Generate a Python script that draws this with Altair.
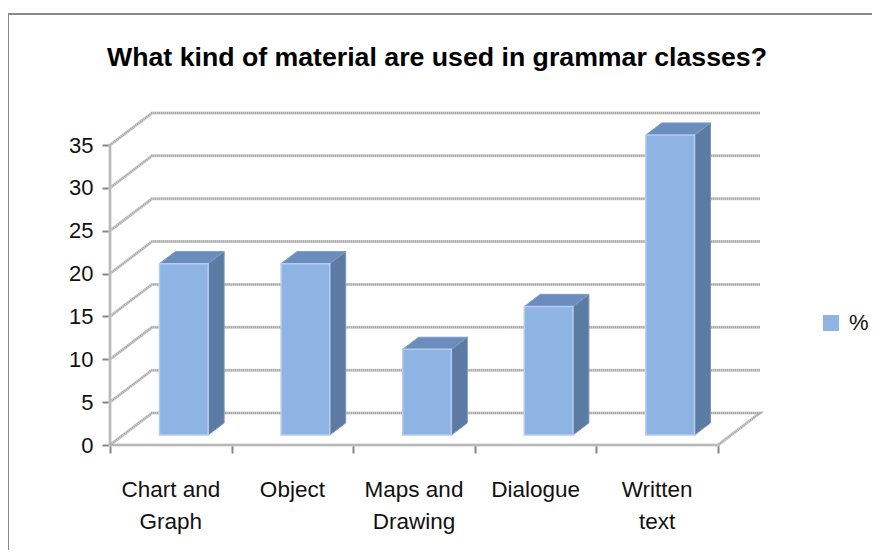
import altair as alt
import pandas as pd

categories = ["Chart and\nGraph", "Object", "Maps and\nDrawing", "Dialogue", "Written\ntext"]
values = [20, 20, 10, 15, 35]
y_ticks = [0, 5, 10, 15, 20, 25, 30, 35]
x_ticks = [0, 1, 2, 3, 4, 5]
series = "%"

FONT = "Liberation Sans"
DX, DY = 42 / 121.5, 32 / 8.571      # depth of the floor in axis units
XMAX, YMAX = 5 + DX, 35 + DY
F0, F1 = 0.31, 0.69                  # bar front / back plane along the depth
BW = 0.4

xs = alt.Scale(domain=[0, XMAX], nice=False, zero=False)
ys = alt.Scale(domain=[0, YMAX], nice=False, zero=False)
x_axis = alt.Axis(values=x_ticks, labels=False, domain=False, grid=False, ticks=True,
                  tickSize=8, tickColor="#868686", tickWidth=2, title=None)
y_axis = alt.Axis(values=y_ticks, domain=False, grid=False, ticks=True, tickSize=8,
                  tickColor="#868686", tickWidth=2, labelFont=FONT, labelFontSize=22,
                  labelColor="#111111", labelPadding=9, format="d", title=None)

# walls
grid_rows = []
for v in y_ticks:
    for i, (a, b) in enumerate([(0, v), (DX, v + DY), (XMAX, v + DY)]):
        grid_rows.append({"g": v, "i": i, "a": a, "b": b})
grid_df = pd.DataFrame(grid_rows)
floor_df = pd.DataFrame([
    {"i": i, "a": a, "b": b}
    for i, (a, b) in enumerate([(0, 0), (DX, DY), (XMAX, DY), (5, 0), (0, 0), (0, 35)])
])


def line_layer(df, detail=None, **style):
    enc = dict(
        x=alt.X("a:Q", scale=xs, axis=x_axis),
        y=alt.Y("b:Q", scale=ys, axis=y_axis),
        order="i:Q",
    )
    if detail:
        enc["detail"] = detail
    return alt.Chart(df).mark_line(**style).encode(**enc)


grid_walls = grid_df[grid_df.g > 0]
grid_under = line_layer(grid_walls, "g:N", color="#cfcfcf", strokeWidth=3)
grid_over = line_layer(grid_walls, "g:N", color="#a3a3a3", strokeWidth=2, strokeDash=[1, 1])
floor_under = line_layer(floor_df, color="#cfcfcf", strokeWidth=3)
floor_over = line_layer(floor_df, color="#a3a3a3", strokeWidth=2, strokeDash=[1, 1])

# bars
rows = []
for i, (c, v) in enumerate(zip(categories, values)):
    left = i + 0.5 - BW / 2 + F0 * DX
    right = left + BW
    rows.append({"c": c, "v": v, "s": series, "xl": left, "xr": right,
                 "b0": F0 * DY, "t0": v + F0 * DY})
bars = pd.DataFrame(rows)
bdx, bdy = (F1 - F0) * DX, (F1 - F0) * DY

side_rows, top_rows = [], []
for r in rows:
    for k in (0, 1):
        side_rows.append({"c": r["c"], "x": r["xr"] + k * bdx,
                          "y": r["t0"] + k * bdy, "y2": r["b0"] + k * bdy})
        top_rows.append({"c": r["c"], "y": r["t0"] + k * bdy,
                         "x": r["xl"] + k * bdx, "x2": r["xr"] + k * bdx})

side = alt.Chart(pd.DataFrame(side_rows)).mark_area(
    color="#5b7ba4", stroke="#7d96b8", strokeWidth=1
).encode(x=alt.X("x:Q", scale=xs, axis=x_axis), y=alt.Y("y:Q", scale=ys, axis=y_axis),
         y2="y2:Q", detail="c:N")
top = alt.Chart(pd.DataFrame(top_rows)).mark_area(
    orient="horizontal", color="#6b8dbd", stroke="#7f9cc6", strokeWidth=1
).encode(x=alt.X("x:Q", scale=xs, axis=x_axis), x2="x2:Q",
         y=alt.Y("y:Q", scale=ys, axis=y_axis), detail="c:N")
front = alt.Chart(bars).mark_bar(stroke="#b4cdee", strokeWidth=1.5).encode(
    x=alt.X("xl:Q", scale=xs, axis=x_axis), x2="xr:Q",
    y=alt.Y("b0:Q", scale=ys, axis=y_axis), y2="t0:Q",
    color=alt.Color("s:N", scale=alt.Scale(domain=[series], range=["#8eb4e3"]),
                    legend=alt.Legend(
                        title=None, orient="none", legendX=710, legendY=199,
                        symbolType="square", symbolSize=256, symbolStrokeWidth=0,
                        labelFont=FONT, labelFontSize=22, labelColor="#111111",
                        labelOffset=7)),
)

# category labels
lab = pd.DataFrame({"c": categories, "p": [i + 0.5 for i in range(len(categories))]})
labels = alt.Chart(lab).mark_text(
    font=FONT, fontSize=22.5, color="#111111", lineBreak="\n", lineHeight=32,
    align="center", baseline="alphabetic",
).encode(x=alt.X("p:Q", scale=xs, axis=x_axis), y=alt.value(384), text="c:N")

# chart frame
rule_df = pd.DataFrame({"k": [0]})
frame_top = alt.Chart(rule_df).mark_rule(color="#8a8a8a", strokeWidth=2).encode(
    x=alt.value(-102), x2=alt.value(762), y=alt.value(-99))
frame_left = alt.Chart(rule_df).mark_rule(color="#8a8a8a", strokeWidth=2).encode(
    x=alt.value(-102), y=alt.value(-99), y2=alt.value(437))

chart = alt.layer(
    frame_top, frame_left, grid_under, grid_over, floor_under, floor_over,
    side, top, front, labels,
).properties(
    width=650, height=332,
    padding={"left": 102, "top": 105, "right": 112, "bottom": 105},
    autosize=alt.AutoSizeParams(type="none"),
    title=alt.TitleParams(
        "What kind of material are used in grammar classes?", font=FONT,
        fontSize=26.7, fontWeight="bold", color="#000000", anchor="middle",
        dx=2, offset=-59),
).configure_view(stroke=None)

chart.save("out.html", embed_options={"renderer": "svg", "actions": False})
